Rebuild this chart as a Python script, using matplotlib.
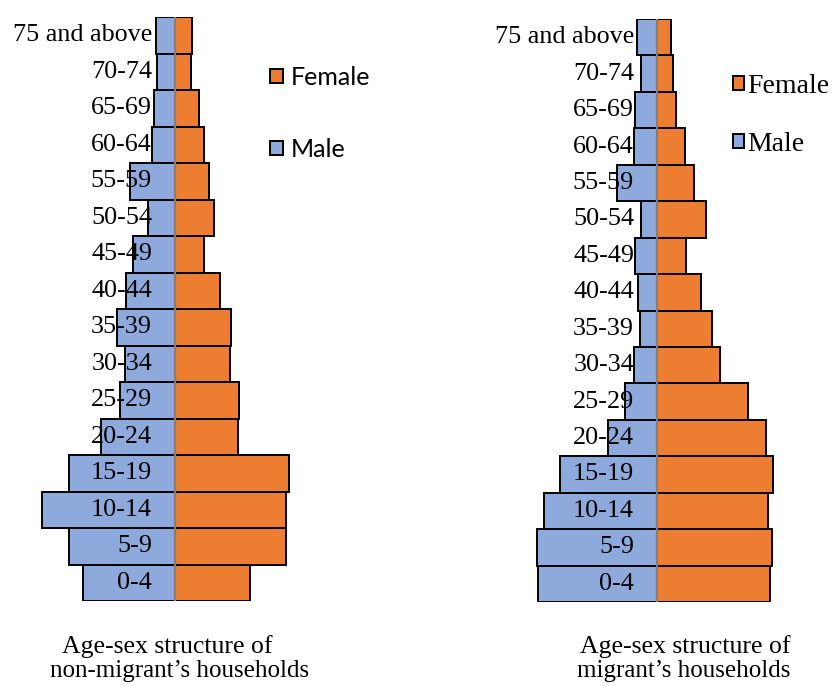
import matplotlib.pyplot as plt
from matplotlib.patches import Patch

W, H = 834, 686

AGE_GROUPS = ['0-4', '5-9', '10-14', '15-19', '20-24', '25-29', '30-34', '35-39',
              '40-44', '45-49', '50-54', '55-59', '60-64', '65-69', '70-74', '75 and above']

# non-migrant households
NM_MALE = [91.7, 106.3, 132.7, 106.3, 73.7, 55.3, 49.7, 57.7,
           49.3, 42.3, 27.0, 45.0, 23.3, 21.0, 18.0, 19.3]
NM_FEMALE = [75.3, 110.7, 110.7, 113.7, 63.3, 64.0, 55.0, 56.0,
             45.3, 28.7, 39.3, 34.3, 29.3, 24.3, 16.0, 17.0]

# migrant households
M_MALE = [118.3, 119.3, 112.3, 96.3, 48.3, 31.7, 22.7, 16.7,
          18.7, 22.0, 16.0, 39.3, 22.7, 21.3, 15.7, 20.0]
M_FEMALE = [113.3, 115.0, 111.3, 116.0, 109.0, 91.0, 63.3, 55.3,
            44.3, 29.3, 49.7, 37.3, 28.3, 19.0, 16.3, 14.3]

TITLES = [("Age-sex structure of", "non-migrant\u2019s households"),
          ("Age-sex structure of", "migrant\u2019s households")]

MALE_C = '#8EA9DB'
FEMALE_C = '#ED7D31'
SERIF = 'Liberation Serif'


def px_axes(fig, cx, top, bottom, half=140):
  left = (cx - half) / W
  return fig.add_axes([left, (H - bottom) / H, 2 * half / W, (bottom - top) / H])


def pyramid(ax, male, female, label_x):
  pos = range(len(AGE_GROUPS))
  ax.barh(pos, [-m for m in male], height=1.0, color=MALE_C,
          edgecolor='black', linewidth=1.4, zorder=2)
  ax.barh(pos, female, height=1.0, color=FEMALE_C,
          edgecolor='black', linewidth=1.4, zorder=2)
  ax.axvline(0, color='#7f7f7f', linewidth=1.6, zorder=3)
  for p, lab in zip(pos, AGE_GROUPS):
    ax.text(label_x, p, lab, ha='right', va='center', fontsize=18.8,
            family=SERIF, zorder=4)
  ax.set_xlim(-140, 140)
  ax.set_ylim(-0.5, len(AGE_GROUPS) - 0.5)
  ax.axis('off')


fig = plt.figure(figsize=(W / 100, H / 100), dpi=100)

ax1 = px_axes(fig, 175, 17, 601)
pyramid(ax1, NM_MALE, NM_FEMALE, -23)

ax2 = px_axes(fig, 656.7, 19, 602)
pyramid(ax2, M_MALE, M_FEMALE, -22.7)

handles = [Patch(facecolor=FEMALE_C, edgecolor='black', linewidth=1.4, label='Female'),
           Patch(facecolor=MALE_C, edgecolor='black', linewidth=1.4, label='Male')]

fig.legend(handles=handles, loc='upper left', bbox_to_anchor=(270 / W, 1 - 66 / H),
           frameon=False, prop={'family': 'Lato', 'size': 18},
           handlelength=0.52, handleheight=0.52, handletextpad=0.3,
           labelspacing=1.95, borderaxespad=0, borderpad=0)

fig.legend(handles=handles, loc='upper left', bbox_to_anchor=(733 / W, 1 - 74 / H),
           frameon=False, prop={'family': SERIF, 'size': 20},
           handlelength=0.4, handleheight=0.4, handletextpad=0.12,
           labelspacing=1.2, borderaxespad=0, borderpad=0)

# two-line captions under each pyramid
for (x1, x2), (line1, line2) in zip([(167.5, 180), (685, 684)], TITLES):
  fig.text(x1 / W, 1 - 653 / H, line1, ha='center', va='baseline',
           fontsize=18.5, family=SERIF)
  fig.text(x2 / W, 1 - 677 / H, line2, ha='center', va='baseline',
           fontsize=18, family=SERIF)

fig.savefig('out.png', dpi=100)
plt.close(fig)
